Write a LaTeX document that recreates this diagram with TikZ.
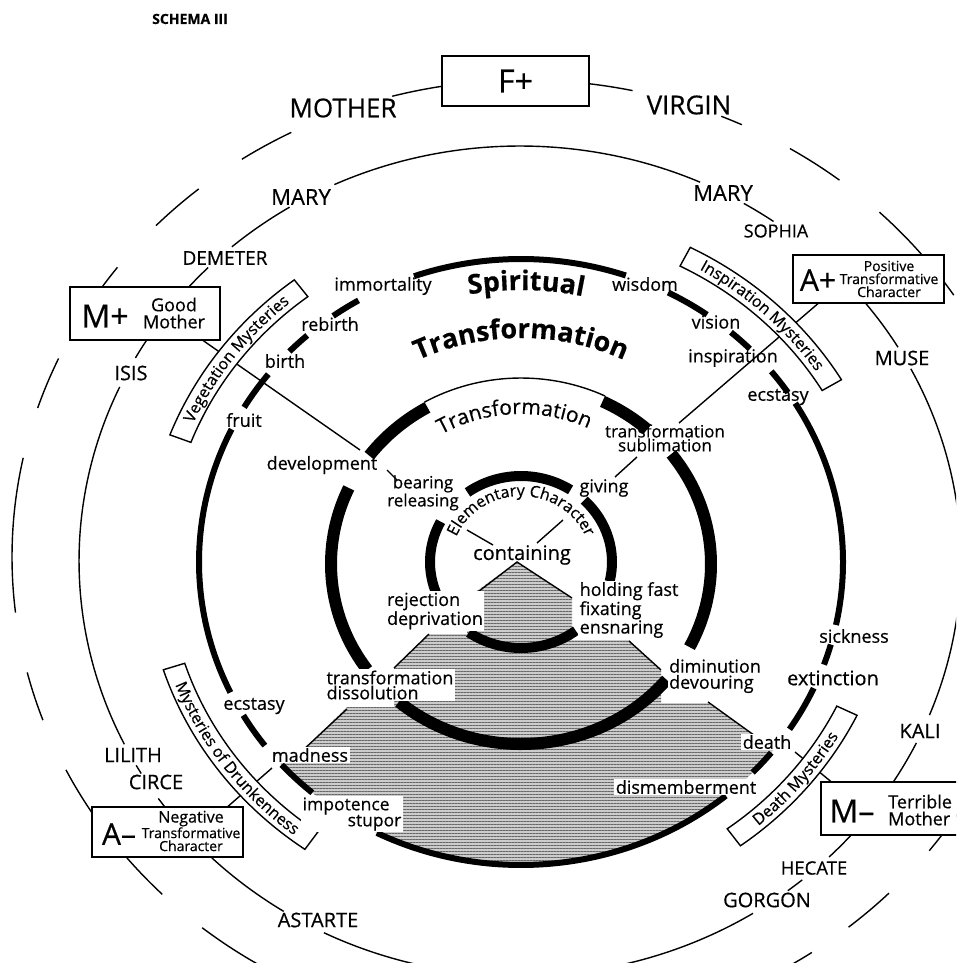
\documentclass[tikz,border=0pt]{standalone}
\usepackage{fontspec}
\setmainfont{Open Sans}[FakeBold=0.5]
\usetikzlibrary{positioning, decorations.text, patterns.meta}

\newcommand\spiritfont{\fontsize{27}{27}\selectfont\bfseries}
\newcommand\ringfont{\fontsize{21}{21}\selectfont}
\newcommand\elemfont{\fontsize{16}{16}\selectfont}
\newcommand\boxfont{\fontsize{16}{16}\selectfont}

\begin{document}
\begin{tikzpicture}[
            x=1pt, y=1pt,
            lab/.style={font=\fontsize{18}{19}\selectfont, inner sep=1.5pt},
            hlab/.style={lab, fill=white, align=left},
            god/.style={font=\fontsize{20}{21}\selectfont, inner sep=1pt},
            big/.style={font=\fontsize{26}{27}\selectfont, inner sep=1pt},
            letter/.style={font=\fontsize{32}{32}\selectfont, inner sep=0pt},
            tbox/.style={draw, line width=1.4pt, fill=white, inner sep=0pt},
            small/.style={font=\fontsize{14}{13}\selectfont, inner sep=0pt, align=center},
            lin/.style={line width=1.4pt},
            ringa/.style={line width=6pt},
            ringb/.style={line width=12pt},
            ringc/.style={line width=10pt},
            e1/.style={x radius=513, y radius=477},
            e2/.style={x radius=441, y radius=415},
            e3/.style={x radius=322, y radius=303},
            e4/.style={x radius=190, y radius=180},
            e5/.style={x radius=91, y radius=86},
        ]
            \useasboundingbox (0,0) rectangle (956,-963);
            \clip (0,0) rectangle (956,-963);

            % centres of the rings
            \coordinate (O1) at (525,-557);
            \coordinate (O2) at (520,-561);
            \coordinate (O3) at (521,-562);
            \coordinate (O4) at (521,-564);
            \coordinate (O5) at (521,-562);

            % hatched lower half
            \begin{scope}
                \clip (O3) ellipse [e3];
                \path[fill=black!20, postaction={pattern={Lines[angle=0, distance=3pt, line width=1pt]}, pattern color=black!60}]
                    (517,-562) -- (572,-598) -- (572,-640) -- (629,-640) -- (661,-670) -- (661,-703)
                    -- (708,-703) -- (758,-738) -- (800,-738) -- (800,-950) -- (240,-950) -- (240,-752)
                    -- (301,-752) -- (347,-707) -- (394,-707) -- (394,-668) -- (429,-634) -- (467,-634)
                    -- (467,-598) -- cycle;
            \end{scope}

            % edges of the hatched steps
            \coordinate (apex) at (517,-562);
            \coordinate (rejtop) at (470,-598);
            \coordinate (holdtop) at (572,-598);
            \coordinate (rejlow) at (429,-634);
            \coordinate (dissoltop) at (394,-668);
            \coordinate (ensnlow) at (629,-641);
            \coordinate (dimintop) at (661,-670);
            \coordinate (dissollow) at (347,-709);
            \coordinate (madtop) at (301,-752);
            \coordinate (devlow) at (708,-702);
            \coordinate (deathtop) at (758,-738);
            \draw[lin] (rejtop) -- (apex) -- (holdtop);
            \draw[lin] (rejlow) -- (dissoltop);
            \draw[lin] (ensnlow) -- (dimintop);
            \draw[lin] (dissollow) -- (madtop);
            \draw[lin] (devlow) -- (deathtop);

            % outer broken circle
            \draw[lin] (O1) ++(77.9:513 and 477) arc[start angle=77.9, end angle=105, e1];
            \draw[lin] (O1) ++(117.1:513 and 477) arc[start angle=117.1, end angle=123.5, e1];
            \draw[lin] (O1) ++(129.5:513 and 477) arc[start angle=129.5, end angle=136, e1];
            \draw[lin] (O1) ++(142.6:513 and 477) arc[start angle=142.6, end angle=152.5, e1];
            \draw[lin] (O1) ++(155.4:513 and 477) arc[start angle=155.4, end angle=161.8, e1];
            \draw[lin] (O1) ++(168:513 and 477) arc[start angle=168, end angle=186.7, e1];
            \draw[lin] (O1) ++(194:513 and 477) arc[start angle=194, end angle=200, e1];
            \draw[lin] (O1) ++(206.5:513 and 477) arc[start angle=206.5, end angle=225, e1];
            \draw[lin] (O1) ++(231:513 and 477) arc[start angle=231, end angle=240, e1];
            \draw[lin] (O1) ++(-60:513 and 477) arc[start angle=-60, end angle=-56, e1];
            \draw[lin] (O1) ++(-50.9:513 and 477) arc[start angle=-50.9, end angle=-44.8, e1];
            \draw[lin] (O1) ++(-38:513 and 477) arc[start angle=-38, end angle=-30, e1];
            \draw[lin] (O1) ++(33.3:513 and 477) arc[start angle=33.3, end angle=46.3, e1];
            \draw[lin] (O1) ++(52.2:513 and 477) arc[start angle=52.2, end angle=58.9, e1];
            \draw[lin] (O1) ++(65:513 and 477) arc[start angle=65, end angle=67.5, e1];

            % second circle
            \draw[lin] (O2) ++(65.9:441 and 415) arc[start angle=65.9, end angle=114.9, e2];
            \draw[lin] (O2) ++(121.5:441 and 415) arc[start angle=121.5, end angle=130.8, e2];
            \draw[lin] (O2) ++(135:441 and 415) arc[start angle=135, end angle=150.7, e2];
            \draw[lin] (O2) ++(155.2:441 and 415) arc[start angle=155.2, end angle=206.2, e2];
            \draw[lin] (O2) ++(209.5:441 and 415) arc[start angle=209.5, end angle=210.8, e2];
            \draw[lin] (O2) ++(214.9:441 and 415) arc[start angle=214.9, end angle=237.6, e2];
            \draw[lin] (O2) ++(243.6:441 and 415) arc[start angle=243.6, end angle=301.9, e2];
            \draw[lin] (O2) ++(307.4:441 and 415) arc[start angle=307.4, end angle=309.8, e2];
            \draw[lin] (O2) ++(314.5:441 and 415) arc[start angle=314.5, end angle=334, e2];
            \draw[lin] (O2) ++(-21.8:441 and 415) arc[start angle=-21.8, end angle=27.6, e2];
            \draw[lin] (O2) ++(31:441 and 415) arc[start angle=31, end angle=47.4, e2];
            \draw[lin] (O2) ++(54.9:441 and 415) arc[start angle=54.9, end angle=59.5, e2];

            % ring of spiritual transformation
            \draw[ringa] (O3) ++(71:322 and 303) arc[start angle=71, end angle=109.4, e3];
            \draw[ringa] (O3) ++(120.3:322 and 303) arc[start angle=120.3, end angle=125.7, e3];
            \draw[ringa] (O3) ++(131.6:322 and 303) arc[start angle=131.6, end angle=136, e3];
            \draw[ringa] (O3) ++(141.7:322 and 303) arc[start angle=141.7, end angle=149.3, e3];
            \draw[ringa] (O3) ++(154:322 and 303) arc[start angle=154, end angle=205.5, e3];
            \draw[ringa] (O3) ++(210.4:322 and 303) arc[start angle=210.4, end angle=217.3, e3];
            \draw[ringa] (O3) ++(222:322 and 303) arc[start angle=222, end angle=229.6, e3];
            \draw[ringa] (O3) ++(243.4:322 and 303) arc[start angle=243.4, end angle=309.5, e3];
            \draw[ringa] (O3) ++(316:322 and 303) arc[start angle=316, end angle=321, e3];
            \draw[ringa] (O3) ++(326.5:322 and 303) arc[start angle=326.5, end angle=335.4, e3];
            \draw[ringa] (O3) ++(340.2:322 and 303) arc[start angle=340.2, end angle=344.2, e3];
            \draw[ringa] (O3) ++(-12:322 and 303) arc[start angle=-12, end angle=31.6, e3];
            \draw[ringa] (O3) ++(34:322 and 303) arc[start angle=34, end angle=39, e3];
            \draw[ringa] (O3) ++(44.7:322 and 303) arc[start angle=44.7, end angle=49.3, e3];
            \draw[ringa] (O3) ++(54.7:322 and 303) arc[start angle=54.7, end angle=62.8, e3];

            % ring of transformation
            \draw[ringb] (O4) ++(119.5:190 and 180) arc[start angle=119.5, end angle=143, e4];
            \draw[ringb] (O4) ++(155:190 and 180) arc[start angle=155, end angle=216, e4];
            \draw[ringb] (O4) ++(230:190 and 180) arc[start angle=230, end angle=320, e4];
            \draw[ringb] (O4) ++(-27.5:190 and 180) arc[start angle=-27.5, end angle=37.7, e4];
            \draw[ringb] (O4) ++(48.4:190 and 180) arc[start angle=48.4, end angle=64.6, e4];
            \draw[lin] (O4) ++(64.6:196 and 186) arc[start angle=64.6, end angle=119.5, x radius=196, y radius=186];

            % ring of the elementary character
            \draw[ringc] (O5) ++(57:91 and 86) arc[start angle=57, end angle=126, e5];
            \draw[ringc] (O5) ++(152:91 and 86) arc[start angle=152, end angle=203, e5];
            \draw[ringc] (O5) ++(235:91 and 86) arc[start angle=235, end angle=307, e5];
            \draw[ringc] (O5) ++(-13:91 and 86) arc[start angle=-13, end angle=46, e5];

            % texts on the rings
            \path[decorate, decoration={text along path, text align=center, text={|\spiritfont|Spiritual}}]
                (O3) ++(111:289 and 272) arc[start angle=111, end angle=67, x radius=289, y radius=272];
            \path[decorate, decoration={text along path, text align=center, text={|\spiritfont|Transformation}}]
                (O3) ++(118:238 and 224) arc[start angle=118, end angle=62, x radius=238, y radius=224];
            \path[decorate, decoration={text along path, text align=center, text={|\ringfont|Transformation}}]
                (O4) ++(122:158 and 150) arc[start angle=122, end angle=63, x radius=158, y radius=150];
            \path[decorate, decoration={text along path, text align=center, text={|\elemfont|Elementary Character}}]
                (O5) ++(168:70 and 66) arc[start angle=168, end angle=12, x radius=70, y radius=66];

            % boxes of the four characters
            \node[tbox, minimum width=147, minimum height=50, font=\fontsize{32}{32}\selectfont] (fplus) at (515.5,-81) {F+};
            \node[tbox, minimum width=150, minimum height=53] (mplus) at (145,-313.5) {};
            \node[letter] (mplusname) at (105,-316) {M+};
            \node[small, font=\fontsize{18}{17}\selectfont] (mplustext) at (174,-313) {Good\\Mother};
            \node[tbox, minimum width=151, minimum height=48] (aplus) at (868.5,-279) {};
            \node[letter, font=\fontsize{30}{30}\selectfont] (aplusname) at (818,-280) {A+};
            \node[small] (aplustext) at (889,-279) {Positive\\Transformative\\Character};
            \node[tbox, minimum width=151, minimum height=50] (aminus) at (167.5,-832) {};
            \node[letter, font=\fontsize{30}{30}\selectfont] (aminusname) at (119,-834) {A–};
            \node[small] (aminustext) at (191,-831) {{\fontsize{16}{14}\selectfont Negative}\\Transformative\\Character};
            \node[tbox, minimum width=154, minimum height=53] (mminus) at (898,-808.5) {};
            \node[letter] (mminusname) at (852,-811) {M–};
            \node[small, font=\fontsize{18}{17}\selectfont, align=left, anchor=west] (mminustext) at (888,-810) {Terrible\\Mother};

            % lines from the characters inwards
            \coordinate (devin) at (360,-450);
            \coordinate (subin) at (679,-423);
            \coordinate (madin) at (272,-768);
            \coordinate (deathin) at (795,-752);
            \draw[lin] (mplus.-25) -- (devin);
            \draw[lin] (aplus.206) -- (subin);
            \draw[lin] (aminus.23) -- (madin);
            \draw[lin] (mminus.158) -- (deathin);
            \coordinate (devtick) at (387,-470);
            \coordinate (beartick) at (397,-480);
            \coordinate (givtick) at (615,-477);
            \coordinate (subtick) at (637,-457);
            \coordinate (elemtick) at (467,-530);
            \coordinate (chartick) at (563,-520);
            \coordinate (contl) at (493,-545);
            \coordinate (contr) at (537,-543);
            \draw[lin] (devtick) -- (beartick);
            \draw[lin] (givtick) -- (subtick);
            \draw[lin] (elemtick) -- (contl);
            \draw[lin] (chartick) -- (contr);

            % the four mysteries
            \draw[lin, fill=white] (O2) ++(127:375 and 352) arc[start angle=127, end angle=159, x radius=375, y radius=352]
                -- ([shift={(O2)}]159:352.5 and 331) arc[start angle=159, end angle=127, x radius=352.5, y radius=331] -- cycle;
            \path[decorate, decoration={text along path, text align=center, text={|\boxfont|Vegetation Mysteries}}]
                (O2) ++(159:358 and 337) arc[start angle=159, end angle=127, x radius=358, y radius=337];
            \draw[lin, fill=white] (O2) ++(31:375 and 352) arc[start angle=31, end angle=63, x radius=375, y radius=352]
                -- ([shift={(O2)}]63:352.5 and 331) arc[start angle=63, end angle=31, x radius=352.5, y radius=331] -- cycle;
            \path[decorate, decoration={text along path, text align=center, text={|\boxfont|Inspiration Mysteries}}]
                (O2) ++(63:358 and 337) arc[start angle=63, end angle=31, x radius=358, y radius=337];
            \draw[lin, fill=white] (O2) ++(198:375 and 352) arc[start angle=198, end angle=235, x radius=375, y radius=352]
                -- ([shift={(O2)}]235:352.5 and 331) arc[start angle=235, end angle=198, x radius=352.5, y radius=331] -- cycle;
            \path[decorate, decoration={text along path, text align=center, text={|\boxfont|Mysteries of Drunkenness}}]
                (O2) ++(198:369 and 347) arc[start angle=198, end angle=235, x radius=369, y radius=347];
            \draw[lin, fill=white] (O2) ++(-54:375 and 352) arc[start angle=-54, end angle=-26, x radius=375, y radius=352]
                -- ([shift={(O2)}]-26:352.5 and 331) arc[start angle=-26, end angle=-54, x radius=352.5, y radius=331] -- cycle;
            \path[decorate, decoration={text along path, text align=center, text={|\boxfont|Death Mysteries}}]
                (O2) ++(-54:369 and 347) arc[start angle=-54, end angle=-26, x radius=369, y radius=347];

            % names on the two outer circles
            \node[lab, font=\fontsize{14}{14}\selectfont\bfseries] (schema) at (190,-19) {SCHEMA III};
            \node[big] (mother) at (343,-108) {MOTHER};
            \node[big] (virgin) at (689,-105) {VIRGIN};
            \node[god, font=\fontsize{22}{22}\selectfont] (maryl) at (301,-197) {MARY};
            \node[god, font=\fontsize{22}{22}\selectfont] (maryr) at (723,-193) {MARY};
            \node[god, font=\fontsize{19}{19}\selectfont] (demeter) at (225,-258) {DEMETER};
            \node[god, font=\fontsize{18}{18}\selectfont] (sophia) at (776,-231) {SOPHIA};
            \node[god] (isis) at (131,-373) {ISIS};
            \node[god] (muse) at (902,-358) {MUSE};
            \node[god] (lilith) at (133,-755) {LILITH};
            \node[god] (circe) at (156,-782) {CIRCE};
            \node[god] (astarte) at (318,-920) {ASTARTE};
            \node[god, font=\fontsize{18.5}{19}\selectfont] (hecate) at (814,-868) {HECATE};
            \node[god] (gorgon) at (767,-900) {GORGON};
            \node[god] (kali) at (920,-731) {KALI};

            % spiritual transformation ring
            \node[lab] (immortality) at (383,-286) {immortality};
            \node[lab] (wisdom) at (645,-284) {wisdom};
            \node[lab] (rebirth) at (330,-324) {rebirth};
            \node[lab] (vision) at (716,-322) {vision};
            \node[lab] (birth) at (285,-361) {birth};
            \node[lab] (inspiration) at (733,-358) {inspiration};
            \node[lab] (fruit) at (244,-420) {fruit};
            \node[lab] (ecstasyr) at (778,-397) {ecstasy};
            \node[lab] (sickness) at (854,-636) {sickness};
            \node[lab, font=\fontsize{20}{20}\selectfont] (extinction) at (833,-678) {extinction};
            \node[hlab] (death) at (767,-742) {death};
            \node[hlab] (dismember) at (686,-787) {dismemberment};
            \node[lab] (ecstasyl) at (254,-706) {ecstasy};
            \node[hlab] (madness) at (310,-755) {madness};
            \node[hlab, font=\fontsize{17.5}{16}\selectfont] (impotence) at (352,-814) {impotence\\\hspace*{45pt}stupor};

            % transformation ring
            \node[lab] (development) at (322,-465) {development};
            \node[lab, font=\fontsize{17}{14}\selectfont, align=center] (sublimation) at (665,-438) {transformation\\sublimation};
            \node[hlab, font=\fontsize{18}{16}\selectfont] (diminution) at (715,-676) {diminution\\devouring};
            \node[hlab, font=\fontsize{18}{15}\selectfont] (dissolution) at (390,-685) {transformation\\dissolution};

            % elementary character ring
            \node[lab, font=\fontsize{17}{13.5}\selectfont, align=center] (bearing) at (423,-493) {bearing\\releasing};
            \node[lab] (giving) at (604,-488) {giving};
            \node[lab, font=\fontsize{20}{20}\selectfont] (containing) at (522,-555) {containing};
            \node[hlab, font=\fontsize{18}{16}\selectfont] (rejection) at (435,-611) {rejection\\deprivation};
            \node[hlab, font=\fontsize{18}{17}\selectfont, anchor=west] (holding) at (578,-610) {holding fast\\fixating\\ensnaring};
        \end{tikzpicture}
\end{document}
